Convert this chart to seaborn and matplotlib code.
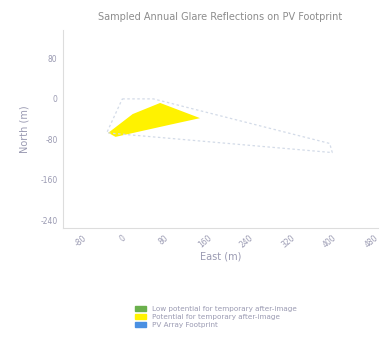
import matplotlib
matplotlib.use("Agg")
import matplotlib.pyplot as plt
import matplotlib.patches as mpatches
import seaborn as sns
import pandas as pd

# PV array footprint outline (East, North in metres)
footprint_east = [0, 60, 400, 405, -30, 0]
footprint_north = [0, 0, -88, -106, -67, 0]

# Region of sampled reflections with potential for after-image
glare_east = [-27, 20, 73, 150, 92, -13, -27]
glare_north = [-67, -30, -8, -38, -51, -75, -67]

x_ticks = [-80, 0, 80, 160, 240, 320, 400, 480]
y_ticks = [80, 0, -80, -160, -240]

legend_labels = ["Low potential for temporary after-image",
                 "Potential for temporary after-image",
                 "PV Array Footprint"]
legend_colors = ["#6ab04c", "#fff200", "#4a90e2"]

sns.set_theme(style="white")
plt.rcParams["font.family"] = ["DejaVu Sans"]
text_color = "#9a9ab2"

fig = plt.figure(figsize=(3.9, 3.53), dpi=100)
ax = fig.add_axes([0.162, 0.354, 0.807, 0.561])

fp = pd.DataFrame({"East": footprint_east, "North": footprint_north})
ax.plot(fp["East"], fp["North"], color="#d3dbe8", lw=0.9, ls=(0, (2, 2)))
ax.fill(glare_east, glare_north, color="#fff200", lw=0)

ax.set_xlim(-114, 493)
ax.set_ylim(-255, 136)
ax.set_xticks(x_ticks)
ax.set_yticks(y_ticks)
ax.set_xticklabels([str(v) for v in x_ticks], rotation=40, fontsize=5.5, color=text_color)
ax.set_yticklabels([str(v) for v in y_ticks], fontsize=5.5, color=text_color)
ax.tick_params(axis="both", length=2, width=0.6, color="#cccccc", pad=2)

for side in ["top", "right"]:
    ax.spines[side].set_visible(False)
for side in ["left", "bottom"]:
    ax.spines[side].set_color("#dddddd")
    ax.spines[side].set_linewidth(0.8)

ax.set_xlabel("East (m)", fontsize=7, color=text_color, labelpad=1)
ax.set_ylabel("North (m)", fontsize=7, color=text_color, labelpad=8)
ax.set_title("Sampled Annual Glare Reflections on PV Footprint",
             fontsize=7, color="#8c8c8c", pad=7)

handles = [mpatches.Patch(color=c, label=l) for c, l in zip(legend_colors, legend_labels)]
leg = fig.legend(handles=handles, loc="upper left", bbox_to_anchor=(0.33, 0.152),
                 frameon=False, fontsize=5.2, handlelength=1.5, handleheight=0.6,
                 labelspacing=0.3, handletextpad=0.8)
for t in leg.get_texts():
    t.set_color(text_color)

fig.savefig("out.png", dpi=100)
